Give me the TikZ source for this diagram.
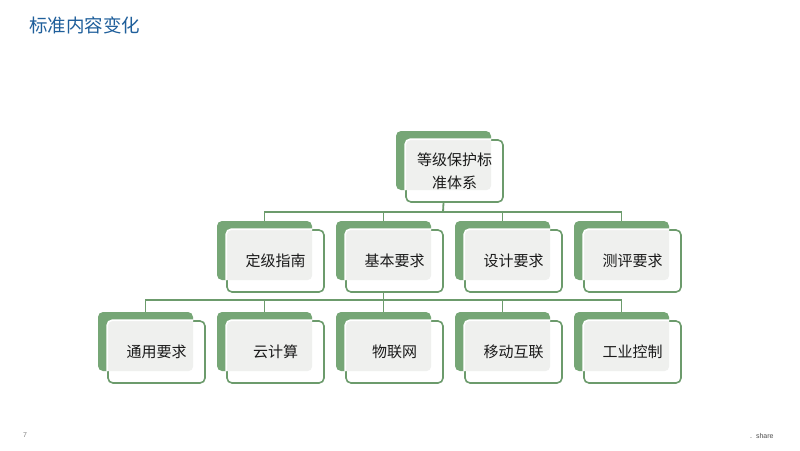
\documentclass[tikz,border=0pt]{standalone}
\usepackage{fontspec}
\setmainfont{Liberation Sans}
\newfontfamily\cjk{Noto Sans CJK SC}
\definecolor{boxgreen}{HTML}{76A676}
\definecolor{linegreen}{HTML}{6C9B6C}
\definecolor{innergray}{HTML}{EFF0EE}
\definecolor{textdark}{HTML}{1A1A1A}
\definecolor{titleblue}{HTML}{1F5F9B}
\tikzset{
  backbox/.style={rectangle, rounded corners=5pt, minimum width=95pt, minimum height=59pt, inner sep=0pt, fill=boxgreen},
  frontshape/.style={rectangle, rounded corners=5pt, minimum width=97pt, minimum height=62pt, inner sep=0pt, draw=linegreen, line width=1.6pt, fill=white},
  fronttext/.style={rectangle, minimum width=97pt, minimum height=62pt, inner sep=0pt, font=\cjk\fontsize{15}{23}\selectfont, text=textdark, align=center},
  conn/.style={draw=linegreen, line width=1.8pt},
}
\newcommand\boxpair[4]{%
  \node[backbox] (b#1) at (#2+47.5,#3+29.5) {};
  \node[frontshape] (s#1) at (#2+10+48.5,#3+9+31) {};
  \begin{scope}
    \clip[rounded corners=5pt] (b#1.south west) rectangle (b#1.north east);
    \fill[innergray, rounded corners=5pt] (s#1.south west) rectangle (s#1.north east);
    \draw[white, line width=1.6pt, rounded corners=5pt] (s#1.south west) rectangle (s#1.north east);
  \end{scope}
  \node[fronttext] (f#1) at (s#1.center) {#4};
}
\begin{document}
\begin{tikzpicture}[x=1pt,y=-1pt]
\useasboundingbox (0,0) rectangle (800,450);
\fill[white] (0,0) rectangle (800,450);
\node[anchor=west, inner sep=0pt, text=titleblue, font=\cjk\fontsize{18.5}{21}\selectfont] (title) at (29,25) {标准内容变化};
\node[inner sep=0pt, text=gray, font=\fontsize{7}{8}\selectfont] (pnum) at (25,435) {7};
\node[inner sep=0pt, text=black!70, font=\fontsize{7}{8}\selectfont, anchor=west] (share) at (750,436) {.\ \ share};

\coordinate (bus1) at (443,212);
\coordinate (bus2) at (383.5,300);

\boxpair{root}{396}{131}{等级保护标\\准体系}
\boxpair{a}{217}{221}{定级指南}
\boxpair{b}{336}{221}{基本要求}
\boxpair{c}{455}{221}{设计要求}
\boxpair{d}{574}{221}{测评要求}
\boxpair{p}{98}{312}{通用要求}
\boxpair{q}{217}{312}{云计算}
\boxpair{r}{336}{312}{物联网}
\boxpair{s}{455}{312}{移动互联}
\boxpair{t}{574}{312}{工业控制}

\draw[conn] (broot.center |- sroot.south) -- (bus1);
\draw[conn] (bus1) -| (ba.north);
\draw[conn] (bus1) -| (bb.north);
\draw[conn] (bus1) -| (bc.north);
\draw[conn] (bus1) -| (bd.north);
\draw[conn] (bb.center |- sb.south) -- (bus2);
\draw[conn] (bus2) -| (bp.north);
\draw[conn] (bus2) -| (bq.north);
\draw[conn] (bus2) -| (br.north);
\draw[conn] (bus2) -| (bs.north);
\draw[conn] (bus2) -| (bt.north);
\end{tikzpicture}
\end{document}
